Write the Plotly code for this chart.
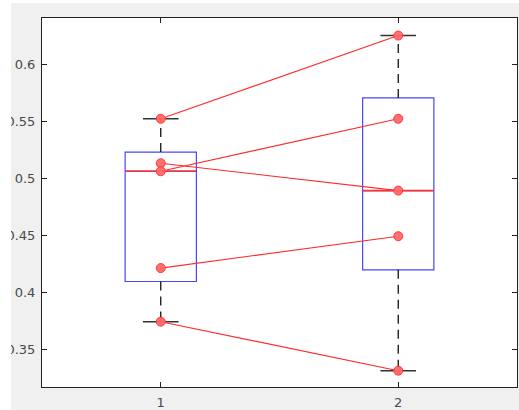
import plotly.graph_objects as go

# paired measurements, condition 1 -> condition 2
groups = [1, 2]
cond1 = [0.552, 0.513, 0.506, 0.421, 0.374]
cond2 = [0.625, 0.489, 0.552, 0.449, 0.331]
yticks = [0.35, 0.4, 0.45, 0.5, 0.55, 0.6]
yticklabels = ["0.35", "0.4", "0.45", "0.5", "0.55", "0.6"]


# matlab style percentile ((i-0.5)/n positions)
def prctile(vals, p):
    s = sorted(vals)
    n = len(s)
    pos = p / 100 * n + 0.5
    if pos <= 1:
        return s[0]
    if pos >= n:
        return s[-1]
    i = int(pos)
    return s[i - 1] + (pos - i) * (s[i] - s[i - 1])


data = [cond1, cond2]
q1 = [prctile(d, 25) for d in data]
med = [prctile(d, 50) for d in data]
q3 = [prctile(d, 75) for d in data]
lo = [min(d) for d in data]
hi = [max(d) for d in data]

boxw = 0.3
capw = 0.15
black = "#222222"

fig = go.Figure()

# boxes
fig.add_trace(
    go.Box(
        x=groups,
        q1=q1,
        median=med,
        q3=q3,
        lowerfence=q1,
        upperfence=q3,
        width=boxw,
        whiskerwidth=0,
        fillcolor="rgba(0,0,0,0)",
        line=dict(color="#4646ff", width=1.2),
        boxpoints=False,
        hoverinfo="skip",
    )
)

for i, g in enumerate(groups):
    # dashed whiskers
    fig.add_trace(
        go.Scatter(
            x=[g, g, None, g, g],
            y=[q3[i], hi[i], None, q1[i], lo[i]],
            mode="lines",
            line=dict(color="#111111", width=1.3, dash="9px,6px"),
        )
    )
    # caps
    fig.add_trace(
        go.Scatter(
            x=[g - capw / 2, g + capw / 2, None, g - capw / 2, g + capw / 2],
            y=[hi[i], hi[i], None, lo[i], lo[i]],
            mode="lines",
            line=dict(color="#333333", width=1.5),
        )
    )
    # median
    fig.add_trace(
        go.Scatter(
            x=[g - boxw / 2, g + boxw / 2],
            y=[med[i], med[i]],
            mode="lines",
            line=dict(color="#ff3030", width=1.6),
        )
    )

# paired lines
for a, b in zip(cond1, cond2):
    fig.add_trace(
        go.Scatter(
            x=groups,
            y=[a, b],
            mode="lines+markers",
            line=dict(color="#ff2a2a", width=1.1),
            marker=dict(
                size=9,
                color="rgba(255,105,105,0.95)",
                line=dict(color="#ff3a3a", width=1),
            ),
        )
    )

fig.update_layout(
    width=519,
    height=410,
    margin=dict(l=42, r=2, t=18, b=23),
    paper_bgcolor="#f0f0f0",
    plot_bgcolor="white",
    showlegend=False,
    font=dict(family="DejaVu Sans", size=13, color="#4a4a4a"),
    shapes=[
        # white strips outside the matlab figure window
        dict(type="rect", xref="paper", yref="paper", x0=-1, x1=-31 / 475,
             y0=-1, y1=3, fillcolor="white", line_width=0, layer="above"),
        dict(type="rect", xref="paper", yref="paper", x0=-1, x1=2,
             y0=384 / 369, y1=3, fillcolor="white", line_width=0, layer="above"),
    ],
)
fig.update_xaxes(
    range=[0.5, 2.5],
    tickvals=groups,
    ticktext=["1", "2"],
    ticks="inside",
    ticklen=5,
    tickcolor=black,
    ticklabelstandoff=3,
    showline=True,
    linecolor=black,
    linewidth=1,
    mirror="ticks",
    showgrid=False,
    zeroline=False,
    automargin=False,
)
fig.update_yaxes(
    range=[0.3167, 0.6404],
    tickvals=yticks,
    ticktext=yticklabels,
    ticks="inside",
    ticklen=5,
    tickcolor=black,
    ticklabelstandoff=3,
    showline=True,
    linecolor=black,
    linewidth=1,
    mirror="ticks",
    showgrid=False,
    zeroline=False,
    automargin=False,
)

# page has a default body margin; drop it so the figure sits at 0,0
fig.write_html(
    "out.html",
    config={"displayModeBar": False},
    post_script="document.body.style.margin = '0';",
)
